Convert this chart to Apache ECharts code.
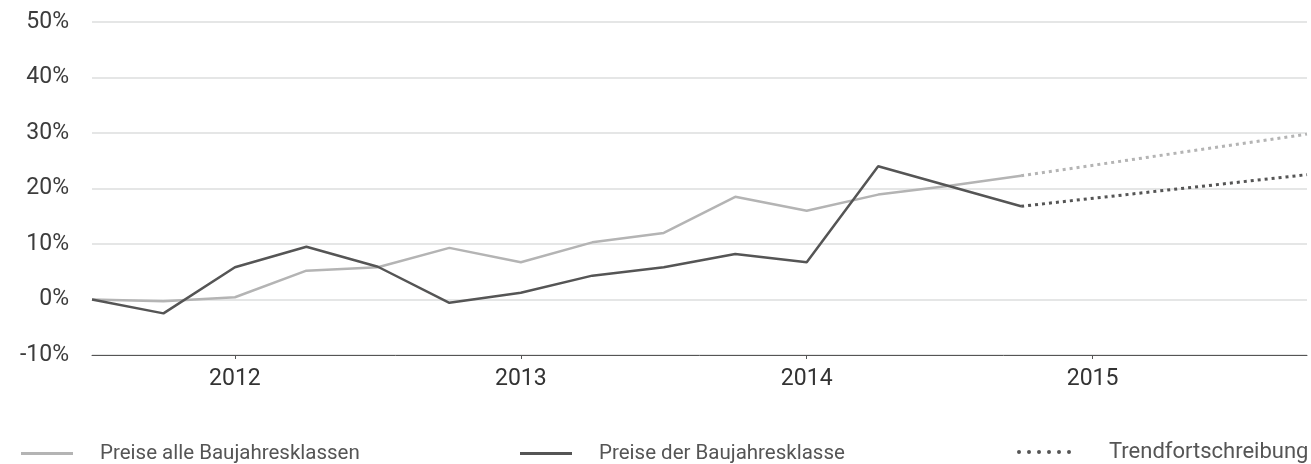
<!DOCTYPE html>
<html>
<head>
<meta charset="utf-8">
<script src="https://cdn.jsdelivr.net/npm/echarts@6/dist/echarts.min.js"></script>
<style>
  html, body { margin: 0; padding: 0; background: #fff; }
  #chart { width: 1311px; height: 464px; }
</style>
</head>
<body>
<div id="chart"></div>
<script>
// quarters 2011 Q3 .. 2015 Q4
const quarters = [
  '2011 Q3', '2011 Q4',
  '2012 Q1', '2012 Q2', '2012 Q3', '2012 Q4',
  '2013 Q1', '2013 Q2', '2013 Q3', '2013 Q4',
  '2014 Q1', '2014 Q2', '2014 Q3', '2014 Q4',
  '2015 Q1', '2015 Q2', '2015 Q3', '2015 Q4'
]
const allClasses = [0, -0.3, 0.4, 5.2, 5.8, 9.3, 6.7, 10.3, 12.0, 18.5, 16.0, 18.9, 20.5, 22.3]
const oneClass = [0, -2.5, 5.8, 9.5, 5.9, -0.6, 1.2, 4.3, 5.8, 8.2, 6.7, 24.0, 20.4, 16.8]
const trendAll = [null, null, null, null, null, null, null, null, null, null, null, null, null, 22.3, null, null, null, 29.8]
const trendOne = [null, null, null, null, null, null, null, null, null, null, null, null, null, 16.8, null, null, null, 22.5]
const yTicks = { min: -10, max: 50, step: 10 }

const LIGHT = '#b4b4b4'
const DARK = '#555555'
const FONT = 'Roboto, "Liberation Sans", sans-serif'
const dots = 'path://M0 2a2 2 0 1 0 4 0a2 2 0 1 0 -4 0Z M10 2a2 2 0 1 0 4 0a2 2 0 1 0 -4 0Z M20 2a2 2 0 1 0 4 0a2 2 0 1 0 -4 0Z M30 2a2 2 0 1 0 4 0a2 2 0 1 0 -4 0Z M40 2a2 2 0 1 0 4 0a2 2 0 1 0 -4 0Z M50 2a2 2 0 1 0 4 0a2 2 0 1 0 -4 0Z'

const chart = echarts.init(document.getElementById('chart'))

const legendBase = {
  orient: 'horizontal',
  top: 443,
  padding: 0,
  itemWidth: 52,
  itemHeight: 3,
  selectedMode: false,
  textStyle: { color: '#555', fontFamily: FONT, fontSize: 20.5, padding: [0, 0, 0, 22] }
}

chart.setOption({
  animation: false,
  textStyle: { fontFamily: FONT },
  grid: { left: 92, right: 4, top: 22, bottom: 109 },
  legend: [
    Object.assign({}, legendBase, {
      left: 21,
      data: [{ name: 'Preise alle Baujahresklassen', icon: 'rect', itemStyle: { color: LIGHT } }]
    }),
    Object.assign({}, legendBase, {
      left: 520,
      data: [{ name: 'Preise der Baujahresklasse', icon: 'rect', itemStyle: { color: DARK } }]
    }),
    Object.assign({}, legendBase, {
      left: 1017,
      top: 441,
      itemWidth: 56,
      itemHeight: 4,
      textStyle: { color: '#555', fontFamily: FONT, fontSize: 22, padding: [0, 0, 0, 32] },
      data: [{ name: 'Trendfortschreibung', icon: dots, itemStyle: { color: DARK } }]
    })
  ],
  xAxis: {
    type: 'category',
    data: quarters,
    boundaryGap: false,
    axisLine: { onZero: false, lineStyle: { color: DARK, width: 1 } },
    axisTick: { length: 4, interval: (i) => i % 4 === 2, lineStyle: { color: DARK } },
    axisLabel: {
      interval: (i) => i % 4 === 2,
      formatter: (v) => v.slice(0, 4),
      color: '#333',
      fontSize: 23,
      margin: 13
    },
    splitLine: { show: false }
  },
  yAxis: {
    type: 'value',
    min: yTicks.min,
    max: yTicks.max,
    interval: yTicks.step,
    axisLine: { show: false },
    axisTick: { show: false },
    axisLabel: { formatter: '{value}%', color: '#3c3c3c', fontSize: 23, margin: 23 },
    splitLine: { lineStyle: { color: '#dcdede', width: 1.5 } }
  },
  series: [
    {
      name: 'Preise alle Baujahresklassen',
      type: 'line',
      data: allClasses,
      showSymbol: false,
      lineStyle: { color: LIGHT, width: 2.5 },
      itemStyle: { color: LIGHT },
      z: 3
    },
    {
      name: 'Preise der Baujahresklasse',
      type: 'line',
      data: oneClass,
      showSymbol: false,
      lineStyle: { color: DARK, width: 2.5 },
      itemStyle: { color: DARK },
      z: 4
    },
    {
      name: 'Trendfortschreibung',
      type: 'line',
      data: trendOne,
      connectNulls: true,
      showSymbol: false,
      lineStyle: { color: DARK, width: 3, type: [3, 4], cap: 'butt' },
      itemStyle: { color: DARK }
    },
    {
      name: 'Trendfortschreibung',
      type: 'line',
      data: trendAll,
      connectNulls: true,
      showSymbol: false,
      lineStyle: { color: LIGHT, width: 3, type: [3, 4], cap: 'butt' },
      itemStyle: { color: LIGHT }
    }
  ]
})
</script>
</body>
</html>
